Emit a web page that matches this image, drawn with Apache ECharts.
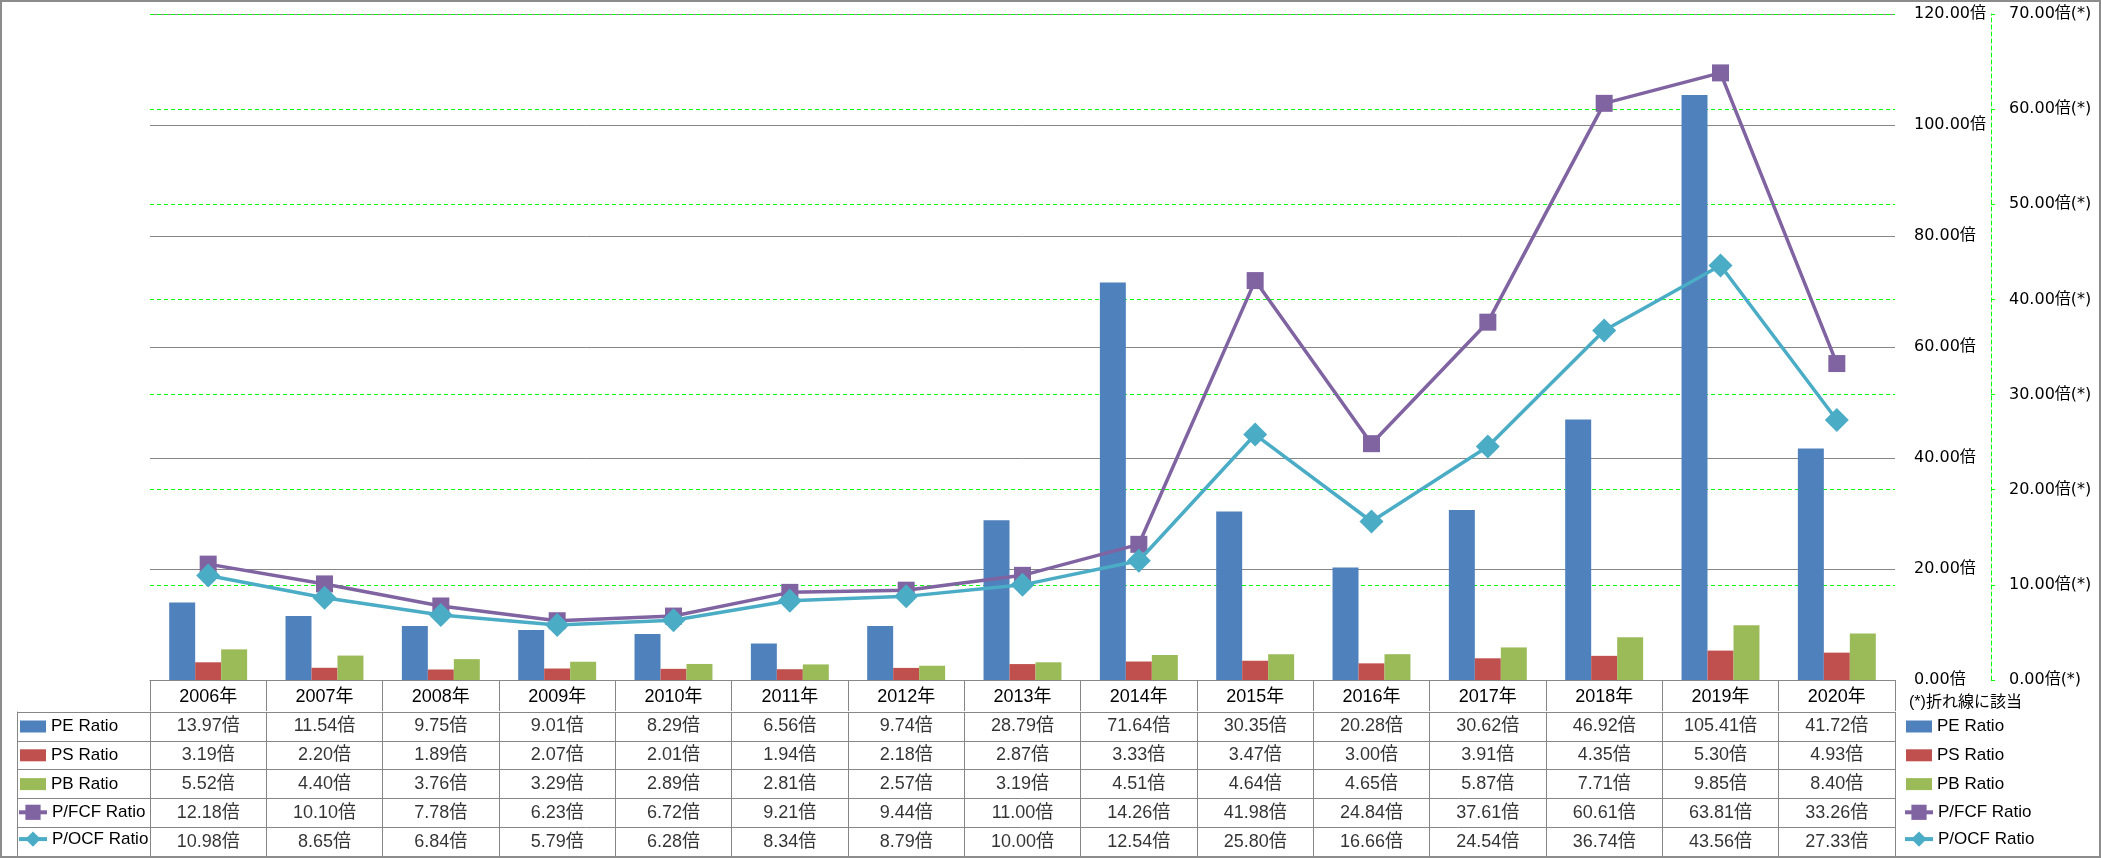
<!DOCTYPE html>
<html><head><meta charset="utf-8">
<script src="https://cdn.jsdelivr.net/npm/echarts@6/dist/echarts.min.js"></script>
<style>
html,body{margin:0;padding:0;background:#fff;}
#c{width:2101px;height:858px;}
#frame{position:absolute;left:0;top:0;width:2101px;height:858px;box-sizing:border-box;border:2px solid #8c8c8c;pointer-events:none;}
</style>
</head><body><div id="c"></div><div id="frame"></div>
<script>
const categories = ['2006年','2007年','2008年','2009年','2010年','2011年','2012年','2013年','2014年','2015年','2016年','2017年','2018年','2019年','2020年'];
const seriesNames = ['PE Ratio','PS Ratio','PB Ratio','P/FCF Ratio','P/OCF Ratio'];
const peRatio   = [13.97,11.54,9.75,9.01,8.29,6.56,9.74,28.79,71.64,30.35,20.28,30.62,46.92,105.41,41.72];
const psRatio   = [3.19,2.20,1.89,2.07,2.01,1.94,2.18,2.87,3.33,3.47,3.00,3.91,4.35,5.30,4.93];
const pbRatio   = [5.52,4.40,3.76,3.29,2.89,2.81,2.57,3.19,4.51,4.64,4.65,5.87,7.71,9.85,8.40];
const pfcfRatio = [12.18,10.10,7.78,6.23,6.72,9.21,9.44,11.00,14.26,41.98,24.84,37.61,60.61,63.81,33.26];
const pocfRatio = [10.98,8.65,6.84,5.79,6.28,8.34,8.79,10.00,12.54,25.80,16.66,24.54,36.74,43.56,27.33];
const leftAxisTicks = {min:0, max:120, interval:20};
const rightAxisTicks = {min:0, max:70, interval:10};
const noteText = '(*)折れ線に該当';

const allRows = [peRatio, psRatio, pbRatio, pfcfRatio, pocfRatio];
const colors = ['#4F81BD','#C0504D','#9BBB59','#8064A2','#4BACC6'];
const gray = '#868686';
const green = '#00ff00';
const tableFont = "'Liberation Sans','Noto Sans CJK JP',sans-serif";
const axisFont = "'DejaVu Sans','Noto Sans CJK JP',sans-serif";

const tableData = [];
allRows.forEach((row, r) => row.forEach((v, c) => tableData.push([c, r, v])));

const chart = echarts.init(document.getElementById('c'), null, {renderer:'canvas'});
const txt = {fontSize:17, fontFamily:tableFont, color:'#000', lineHeight:17};
const barLegend = {orient:'vertical', top:718, itemWidth:26, itemHeight:12, itemGap:11.8, icon:'rect',
  selectedMode:false, data:seriesNames.slice(0,3), padding:0, textStyle:txt};
const lineLegend = {orient:'vertical', top:803.8, itemWidth:28, itemHeight:19, itemGap:9.8,
  selectedMode:false, data:seriesNames.slice(3), padding:0, textStyle:txt,
  lineStyle:{width:4}};
const option = {
  animation:false,
  color: colors,
  title:{text:noteText, left:1909, top:695, padding:0,
    textStyle:{fontSize:16, fontWeight:'normal', fontFamily:tableFont, color:'#000'}},
  legend:[
    Object.assign({left:20}, barLegend), Object.assign({left:1906}, barLegend),
    Object.assign({left:17}, lineLegend), Object.assign({left:1903}, lineLegend)
  ],
  grid:[
    {left:150, right:206, top:14, height:666, outerBoundsMode:'none'},
    {left:150, right:206, top:712, height:144, outerBoundsMode:'none'}
  ],
  xAxis:[
    {gridIndex:0, type:'category', data:categories,
      axisLine:{lineStyle:{color:gray}},
      axisTick:{show:true, interval:0, length:31, lineStyle:{color:gray}},
      axisLabel:{interval:0, margin:8, fontSize:18, color:'#000', fontFamily:tableFont},
      splitLine:{show:false}},
    {gridIndex:1, type:'category', data:categories, position:'bottom',
      axisLine:{show:true, lineStyle:{color:gray}},
      axisTick:{show:false}, axisLabel:{show:false},
      splitLine:{show:true, interval:0, lineStyle:{color:gray}}}
  ],
  yAxis:[
    {gridIndex:0, type:'value', position:'right', min:leftAxisTicks.min, max:leftAxisTicks.max, interval:leftAxisTicks.interval,
      axisLine:{show:false}, axisTick:{show:false},
      axisLabel:{margin:19, fontSize:16, fontFamily:axisFont, color:'#000', formatter:v=>v.toFixed(2)+'倍'},
      splitLine:{show:true, lineStyle:{color:gray, width:1}}},
    {gridIndex:0, type:'value', position:'right', offset:96, min:rightAxisTicks.min, max:rightAxisTicks.max, interval:rightAxisTicks.interval,
      axisLine:{show:true, lineStyle:{color:green, type:[4,3]}},
      axisTick:{show:true, length:4, lineStyle:{color:green}},
      axisLabel:{margin:18, fontSize:16, fontFamily:axisFont, color:'#000', formatter:v=>v.toFixed(2)+'倍(*)'},
      splitLine:{show:true, lineStyle:{color:green, type:[4,3], width:1}}},
    {gridIndex:1, type:'category', data:seriesNames, inverse:true, position:'left',
      axisLine:{show:true, lineStyle:{color:gray}},
      axisTick:{show:true, interval:0, length:133, lineStyle:{color:gray}},
      axisLabel:{show:false},
      splitLine:{show:true, interval:0, lineStyle:{color:gray}}},
    {gridIndex:1, type:'category', data:seriesNames, position:'left', offset:133,
      axisLine:{show:true, lineStyle:{color:gray}},
      axisTick:{show:false}, axisLabel:{show:false}, splitLine:{show:false}}
  ],
  series:[
    {type:'bar', name:seriesNames[0], xAxisIndex:0, yAxisIndex:0, data:peRatio, barGap:'0%', barCategoryGap:'33%', itemStyle:{color:colors[0]}},
    {type:'bar', name:seriesNames[1], xAxisIndex:0, yAxisIndex:0, data:psRatio, barGap:'0%', barCategoryGap:'33%', itemStyle:{color:colors[1]}},
    {type:'bar', name:seriesNames[2], xAxisIndex:0, yAxisIndex:0, data:pbRatio, barGap:'0%', barCategoryGap:'33%', itemStyle:{color:colors[2]}},
    {type:'line', name:seriesNames[3], xAxisIndex:0, yAxisIndex:1, data:pfcfRatio, symbol:'rect', symbolSize:17,
      lineStyle:{width:3.5, color:colors[3]}, itemStyle:{color:colors[3]}, z:3},
    {type:'line', name:seriesNames[4], xAxisIndex:0, yAxisIndex:1, data:pocfRatio, symbol:'diamond', symbolSize:24,
      lineStyle:{width:3.5, color:colors[4]}, itemStyle:{color:colors[4]}, z:4},
    {type:'scatter', name:'table', xAxisIndex:1, yAxisIndex:2, data:tableData, symbolSize:1, silent:true,
      itemStyle:{color:'rgba(0,0,0,0)'},
      label:{show:true, position:'inside', color:'#000', fontSize:18, fontFamily:tableFont,
        formatter:p=>p.value[2].toFixed(2)+'倍'}}
  ]
};
chart.setOption(option);
</script>
</body></html>
